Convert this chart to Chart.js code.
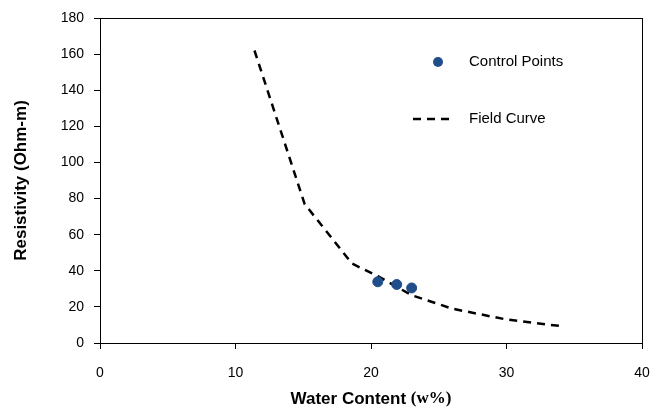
<!DOCTYPE html>
<html>
<head>
<meta charset="utf-8">
<script src="https://cdn.jsdelivr.net/npm/chart.js@4"></script>
<style>
    html, body { margin: 0; padding: 0; background: #ffffff; }
    #wrap { width: 654px; height: 407px; }
</style>
</head>
<body>
<div id="wrap"><canvas id="grafico" width="654" height="407"></canvas></div>
<script>
// Datos
const contenidoAgua = [11.4, 15.1, 18.6, 20.5, 23.0, 26.0, 30.0, 34.2];
const resistividad = [162, 77, 44, 37, 26.5, 19, 13, 9.2];

const puntosX = [20.5, 21.9, 23.0];
const puntosY = [33.9, 32.4, 30.5];

const ticksX = [0, 10, 20, 30, 40];
const ticksY = [0, 20, 40, 60, 80, 100, 120, 140, 160, 180];

const nombrePuntos = 'Control Points';
const nombreCurva = 'Field Curve';
const tituloX = 'Water Content ';
const tituloXUnidad = '(w%)';
const tituloY = 'Resistivity (Ohm-m)';

const azul = '#1f4e8a';
const fuente = "'Liberation Sans', Arial, sans-serif";

// Marco completo alrededor del área, leyenda y título X (con "(w%)" en serif)
const extras = {
    id: 'extras',
    afterDraw(chart) {
        const { ctx, chartArea: a } = chart;
        ctx.save();
        ctx.strokeStyle = '#000';
        ctx.lineWidth = 1;
        ctx.strokeRect(a.left + 0.5, a.top + 0.5, a.right - a.left, a.bottom - a.top);

        // leyenda
        const lx = a.left + 338;
        ctx.fillStyle = azul;
        ctx.beginPath();
        ctx.arc(lx, a.top + 44, 5, 0, Math.PI * 2);
        ctx.fill();
        ctx.strokeStyle = '#000';
        ctx.lineWidth = 2.5;
        ctx.setLineDash([8, 6]);
        ctx.beginPath();
        ctx.moveTo(lx - 25, a.top + 101);
        ctx.lineTo(lx + 15, a.top + 101);
        ctx.stroke();
        ctx.setLineDash([]);
        ctx.fillStyle = '#000';
        ctx.font = '15px ' + fuente;
        ctx.textBaseline = 'middle';
        ctx.textAlign = 'left';
        ctx.fillText(nombrePuntos, lx + 31, a.top + 44);
        ctx.fillText(nombreCurva, lx + 31, a.top + 101);

        // título eje X
        const f1 = 'bold 17px ' + fuente;
        const f2 = "bold 17px 'Liberation Serif', 'Times New Roman', serif";
        ctx.font = f1;
        const w1 = ctx.measureText(tituloX).width;
        ctx.font = f2;
        const w2 = ctx.measureText(tituloXUnidad).width;
        const x0 = (a.left + a.right) / 2 - (w1 + w2) / 2;
        const y0 = 399;
        ctx.font = f1;
        ctx.fillText(tituloX, x0, y0);
        ctx.font = f2;
        ctx.fillText(tituloXUnidad, x0 + w1, y0);
        ctx.restore();
    }
};

new Chart(document.getElementById('grafico'), {
    type: 'scatter',
    data: {
        datasets: [
            {
                label: nombrePuntos,
                data: puntosX.map((x, i) => ({ x: x, y: puntosY[i] })),
                backgroundColor: azul,
                borderColor: azul,
                pointRadius: 5,
                pointHoverRadius: 5,
                showLine: false,
                order: 0
            },
            {
                label: nombreCurva,
                data: contenidoAgua.map((x, i) => ({ x: x, y: resistividad[i] })),
                borderColor: '#000',
                borderWidth: 2.5,
                borderDash: [8, 6],
                pointRadius: 0,
                showLine: true,
                tension: 0,
                order: 1
            }
        ]
    },
    options: {
        responsive: false,
        animation: false,
        layout: { padding: { left: 0, top: 18, right: 12, bottom: 0 } },
        plugins: { legend: { display: false }, tooltip: { enabled: false } },
        scales: {
            x: {
                type: 'linear',
                min: 0,
                max: 40,
                afterFit: s => { s.height = 64; s.paddingRight = 0; s.paddingLeft = 0; },
                afterBuildTicks: s => { s.ticks = ticksX.map(v => ({ value: v })); },
                ticks: { color: '#000', font: { family: fuente, size: 14 }, padding: 16 },
                grid: { drawOnChartArea: false, drawTicks: true, tickLength: 6, color: '#000' },
                border: { color: '#000', width: 1 }
            },
            y: {
                type: 'linear',
                min: 0,
                max: 180,
                afterFit: s => { s.width = 100; s.paddingTop = 0; s.paddingBottom = 0; },
                afterBuildTicks: s => { s.ticks = ticksY.map(v => ({ value: v })); },
                ticks: { color: '#000', font: { family: fuente, size: 14 }, padding: 10 },
                grid: { drawOnChartArea: false, drawTicks: true, tickLength: 6, color: '#000' },
                border: { color: '#000', width: 1 },
                title: {
                    display: true,
                    text: tituloY,
                    color: '#000',
                    font: { family: fuente, size: 17, weight: 'bold' },
                    padding: { top: 11, bottom: 0 }
                }
            }
        }
    },
    plugins: [extras]
});
</script>
</body>
</html>
